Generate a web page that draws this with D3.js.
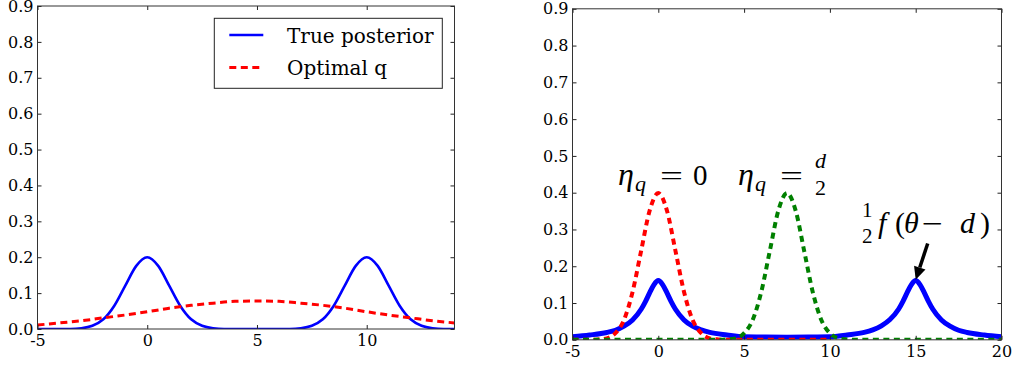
<!DOCTYPE html>
<html><head><meta charset="utf-8">
<script src="https://cdn.jsdelivr.net/npm/d3@7"></script>
<style>body{margin:0;background:#fff;} svg{display:block}</style>
</head><body>
<svg width="1013" height="366"></svg>
<script>
// ---------- data ----------
const yTicks = [0, 0.1, 0.2, 0.3, 0.4, 0.5, 0.6, 0.7, 0.8, 0.9];
const leftXTicks = [-5, 0, 5, 10];
const rightXTicks = [-5, 0, 5, 10, 15, 20];
const legendLabels = ["True posterior", "Optimal q"];

const leftX = [-5,-4.5,-4,-3.5,-3,-2.5,-2,-1.5,-1,-0.5,0,0.5,1,1.5,2,2.5,3,3.5,4,4.5,5,5.5,6,6.5,7,7.5,8,8.5,9,9.5,10,10.5,11,11.5,12,12.5,13,13.5,14];
const leftTrue = [0,0,0,0,0.002,0.009,0.027,0.065,0.121,0.176,0.200,0.176,0.121,0.065,0.027,0.009,0.002,0,0,0,0,0,0,0,0.002,0.009,0.027,0.065,0.121,0.176,0.200,0.176,0.121,0.065,0.027,0.009,0.002,0,0];
const leftQX = [-5,-4,-3,-2,-1,0,1,2,3,4,5,6,7,8,9,10,11,12,13,14];
const leftQ = [0.011,0.017,0.023,0.031,0.039,0.048,0.058,0.066,0.072,0.077,0.078,0.077,0.072,0.066,0.058,0.048,0.039,0.031,0.023,0.017];

const rightBlueX = [-5,-4,-3,-2.5,-2,-1.5,-1,-0.75,-0.5,-0.25,0,0.25,0.5,0.75,1,1.5,2,2.5,3,4,5,6,7.5,9,10,11,12,12.5,13,13.5,14,14.25,14.5,14.75,15,15.25,15.5,15.75,16,16.5,17,17.5,18,19,20];
const rightBlue = [0.008,0.013,0.020,0.026,0.037,0.054,0.083,0.104,0.128,0.150,0.161,0.150,0.128,0.104,0.083,0.054,0.037,0.027,0.020,0.013,0.008,0.0075,0.007,0.0075,0.008,0.013,0.020,0.027,0.038,0.055,0.083,0.104,0.128,0.150,0.161,0.150,0.128,0.104,0.083,0.054,0.037,0.026,0.020,0.013,0.008];
const rightRedX = [-5,-4,-3.5,-3,-2.5,-2,-1.5,-1,-0.5,0,0.5,1,1.5,2,2.5,3,3.5,4,5,10];
const rightRed = [0,0,0.001,0.004,0.018,0.054,0.130,0.242,0.352,0.399,0.352,0.242,0.130,0.054,0.018,0.004,0.001,0,0,0];
const rightGreenX = [-5,0,3.5,4,4.5,5,5.5,6,6.5,7,7.5,8,8.5,9,9.5,10,10.5,11,11.5,15,20];
const rightGreen = [0,0,0,0.001,0.004,0.018,0.054,0.130,0.242,0.352,0.399,0.352,0.242,0.130,0.054,0.018,0.004,0.001,0,0,0];

// ---------- layout ----------
const svg = d3.select("svg");
const TICKFONT = "DejaVu Serif";
const MATHFONT = "Liberation Serif";

function makePanel(id, xDomain, xRange, yRange, xTicks) {
  const x = d3.scaleLinear().domain(xDomain).range(xRange);
  const y = d3.scaleLinear().domain([0, 0.9]).range(yRange);
  const g = svg.append("g");
  g.append("clipPath").attr("id", id).append("rect")
    .attr("x", xRange[0]).attr("y", yRange[1])
    .attr("width", xRange[1] - xRange[0]).attr("height", yRange[0] - yRange[1]);
  const plot = g.append("g").attr("clip-path", `url(#${id})`);
  const fmtX = d => String(d);
  const axes = [
    [d3.axisBottom(x).tickValues(xTicks).tickFormat(fmtX).tickPadding(6), `translate(0,${yRange[0]})`],
    [d3.axisTop(x).tickValues(xTicks).tickFormat(""), `translate(0,${yRange[1]})`],
    [d3.axisLeft(y).tickValues(yTicks).tickFormat(d3.format(".1f")).tickPadding(4), `translate(${xRange[0]},0)`],
    [d3.axisRight(y).tickValues(yTicks).tickFormat(""), `translate(${xRange[1]},0)`]
  ];
  axes.forEach(([ax, tr]) => {
    const a = g.append("g").attr("transform", tr)
      .call(ax.tickSizeInner(-4).tickSizeOuter(0));
    a.attr("font-family", TICKFONT).attr("font-size", 16);
    a.select(".domain").remove();
    a.selectAll("line").attr("stroke", "#222");
    a.selectAll("text").attr("font-family", TICKFONT).attr("font-size", 16).attr("fill", "#000");
  });
  g.append("rect").attr("x", xRange[0]).attr("y", yRange[1])
    .attr("width", xRange[1] - xRange[0]).attr("height", yRange[0] - yRange[1])
    .attr("fill", "none").attr("stroke", "#333").attr("stroke-width", 1);
  return {x, y, plot, g};
}

function drawLine(p, xs, ys, color, width, dash) {
  const line = d3.line().x(i => p.x(xs[i])).y(i => p.y(ys[i])).curve(d3.curveMonotoneX);
  p.plot.append("path").attr("d", line(d3.range(xs.length)))
    .attr("fill", "none").attr("stroke", color).attr("stroke-width", width)
    .attr("stroke-dasharray", dash || null).attr("stroke-linejoin", "round");
}

// Left panel
const L = makePanel("clipL", [-5, 14], [37.5, 454.5], [329, 6], leftXTicks);
drawLine(L, leftX, leftTrue, "#0000ff", 2.6);
drawLine(L, leftQX, leftQ, "#ff0000", 3, "7,4.5");

// Legend
const lg = svg.append("g");
lg.append("rect").attr("x", 214.3).attr("y", 18.3).attr("width", 228).attr("height", 70)
  .attr("fill", "#fff").attr("stroke", "#222").attr("stroke-width", 1);
lg.append("line").attr("x1", 229.3).attr("x2", 263.3).attr("y1", 35).attr("y2", 35)
  .attr("stroke", "#0000ff").attr("stroke-width", 2.6);
lg.append("line").attr("x1", 229.3).attr("x2", 263.3).attr("y1", 67.5).attr("y2", 67.5)
  .attr("stroke", "#ff0000").attr("stroke-width", 3).attr("stroke-dasharray", "7,4.5");
lg.append("text").attr("x", 287).attr("y", 43.3).text(legendLabels[0])
  .attr("font-family", TICKFONT).attr("font-size", 20);
lg.append("text").attr("x", 287).attr("y", 74.5).text(legendLabels[1])
  .attr("font-family", TICKFONT).attr("font-size", 20);

// Right panel
const R = makePanel("clipR", [-5, 20], [572.5, 1001.5], [339.8, 8.8], rightXTicks);
drawLine(R, rightBlueX, rightBlue, "#0000ff", 5);
drawLine(R, rightRedX, rightRed, "#ff0000", 4, "6,4.5");
drawLine(R, rightGreenX, rightGreen, "#008000", 4, "6,4.5");

// Annotations (math-like text)
const ann = svg.append("g").attr("font-family", MATHFONT).attr("fill", "#000");
function t(x, y, s, size, italic, len) {
  const e = ann.append("text").attr("x", x).attr("y", y).attr("font-size", size)
    .attr("font-style", italic ? "italic" : "normal").text(s);
  if (len) e.attr("textLength", len).attr("lengthAdjust", "spacingAndGlyphs");
  return e;
}
// eta_q = 0
{
  const ax = R.x(-2.35), by = R.y(0.421);
  t(ax, by, "η", 32, true);
  t(ax + 17, by + 6, "q", 22, true);
  t(ax + 42, by, "=", 28, false, 23);
  t(ax + 75, by, "0", 29, false);
}
// eta_q = d/2
{
  const ax = R.x(4.64), by = R.y(0.421);
  t(ax, by, "η", 32, true);
  t(ax + 17, by + 6, "q", 22, true);
  t(ax + 42, by, "=", 28, false, 23);
  t(ax + 77, by - 17, "d", 22, true);
  t(ax + 77, by + 10, "2", 22, false);
}
// 1/2 f(theta - d)
{
  const ax = R.x(11.87), by = R.y(0.29);
  t(ax, by - 16.5, "1", 21, false);
  t(ax, by + 9.5, "2", 21, false);
  t(ax + 16, by, "f", 30, true);
  t(ax + 33, by, "(", 30, false);
  t(ax + 42, by, "θ", 30, true);
  t(ax + 60, by, "−", 28, false, 21);
  t(ax + 98, by, "d", 30, true);
  t(ax + 118, by, ")", 30, false);
}
// Arrow
{
  const x1 = R.x(15.7), y1 = R.y(0.262), x2 = R.x(15.0), y2 = R.y(0.163);
  const ang = Math.atan2(y2 - y1, x2 - x1);
  const hl = 13, hw = 6;
  const bx = x2 - hl * Math.cos(ang), by = y2 - hl * Math.sin(ang);
  svg.append("line").attr("x1", x1).attr("y1", y1).attr("x2", bx).attr("y2", by)
    .attr("stroke", "#000").attr("stroke-width", 3.5);
  const px = -Math.sin(ang), py = Math.cos(ang);
  svg.append("path")
    .attr("d", `M${x2},${y2}L${bx + hw * px},${by + hw * py}L${bx - hw * px},${by - hw * py}Z`)
    .attr("fill", "#000");
}
</script>
</body></html>
